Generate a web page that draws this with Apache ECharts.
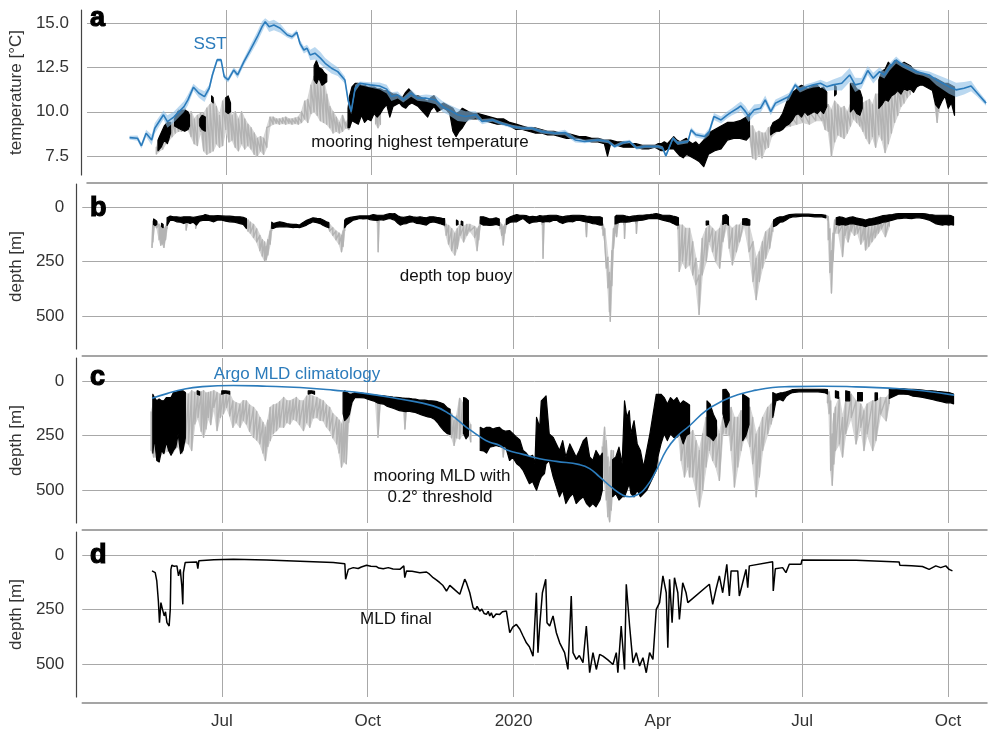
<!DOCTYPE html>
<html><head><meta charset="utf-8">
<script src="https://cdn.jsdelivr.net/npm/echarts@6/dist/echarts.min.js"></script>
<style>html,body{margin:0;padding:0;background:#fff}#c{width:988px;height:730px}</style>
</head><body><div id="c"></div>
<script>
// x values everywhere: days since 2019-07-01
const monthTicks = [0, 92, 184, 275, 366, 458];
const monthLabels = ['Jul', 'Oct', '2020', 'Apr', 'Jul', 'Oct'];
const tempTicks = [7.5, 10, 12.5, 15];
const depthTicks = [0, 250, 500];

// SST [day, °C, half-width of uncertainty band]
const sst = [[-61,8.54,0.1],[-56,8.51,0.15],[-53.5,8.08,0.15],[-50.5,8.79,0.2],[-47,8.41,0.3],[-45,9.07,0.3],[-39.5,9.83,0.25],[-37,9.45,0.35],[-33,9.7,0.3],[-26.5,10.29,0.3],[-24,10.67,0.3],[-20.5,11.39,0.2],[-17,11.05,0.25],[-13.5,10.86,0.3],[-10.5,11.33,0.2],[-8.5,12.08,0.2],[-5.5,12.93,0.1],[-3,12.93,0.1],[-1,11.99,0.15],[1.5,11.8,0.15],[5,12.36,0.15],[7.5,12.08,0.2],[11.5,12.83,0.2],[15.5,13.49,0.25],[20,14.24,0.3],[23,14.81,0.3],[25,15.09,0.2],[27.5,14.81,0.3],[30.5,14.9,0.3],[34.5,14.72,0.25],[39,14.34,0.15],[42,14.24,0.15],[45,14.49,0.15],[47,13.87,0.2],[49.5,13.49,0.2],[51.5,13.59,0.2],[53.5,13.21,0.3],[56.5,13.31,0.35],[60,13.03,0.35],[63,12.74,0.3],[67,12.46,0.3],[71,12.27,0.25],[75.5,11.8,0.2],[77.5,10.67,0.2],[79.5,10.01,0.15],[82,11.33,0.2],[85,11.61,0.1],[91.5,11.52,0.15],[97.5,11.46,0.2],[102,11.28,0.25],[105,10.86,0.25],[109,10.95,0.2],[112.5,10.67,0.15],[117.5,11.05,0.2],[121.5,10.77,0.15],[127,10.77,0.2],[133,10.67,0.25],[137.5,10.29,0.3],[141.5,10.11,0.3],[147,9.83,0.35],[152,9.73,0.3],[158.5,9.83,0.2],[162.5,9.45,0.15],[169,9.54,0.1],[175.5,9.32,0.1],[181.5,9.17,0.1],[188,9.07,0.1],[194,9.07,0.1],[200.5,8.88,0.1],[209,8.79,0.1],[215,8.83,0.15],[221.5,8.41,0.15],[227.5,8.32,0.1],[236,8.41,0.1],[242.5,8.32,0.1],[246.5,8.04,0.1],[252,8.26,0.1],[256,8.32,0.1],[260.5,7.95,0.1],[265.5,8.04,0.1],[269.5,8.04,0.1],[274,8.04,0.1],[277,7.95,0.1],[279,7.51,0.1],[283.5,8.51,0.1],[286.5,8.23,0.1],[293,8.32,0.1],[295,8.98,0.15],[298,8.7,0.15],[303.5,8.6,0.15],[306.5,8.88,0.2],[309.5,9.73,0.2],[314,9.54,0.2],[318,9.83,0.2],[321,10.01,0.2],[324.5,10.2,0.25],[326.5,10.33,0.25],[329.5,10.01,0.3],[331.5,9.73,0.3],[335,10.11,0.3],[339,10.2,0.25],[342,10.67,0.25],[345.5,10.01,0.2],[348.5,10.49,0.2],[352.5,10.67,0.2],[357,10.86,0.2],[361,11.52,0.15],[364,11.24,0.15],[368.5,11.42,0.15],[372.5,11.52,0.15],[377,11.61,0.2],[381,11.42,0.25],[385,11.52,0.3],[390.5,11.61,0.4],[395.5,12.08,0.4],[399,11.52,0.4],[403,11.61,0.3],[407,12.33,0.25],[410.5,11.9,0.3],[414.5,12.27,0.25],[417.5,12.08,0.2],[421,12.55,0.2],[425,12.93,0.2],[429,12.65,0.15],[433.5,12.46,0.15],[437.5,12.27,0.15],[442,12.18,0.15],[446,12.08,0.2],[450.5,11.8,0.3],[454.5,11.61,0.35],[458.5,11.42,0.4],[463,11.24,0.4],[468,11.33,0.35],[472.5,11.46,0.3],[476.5,11.05,0.2],[482,10.49,0.15]];

// mooring highest temperature, [day, min, max]; gray = all data, black = valid data
const tempAll = [[-44,7.6,8.0],[-42,7.8,8.6],[-40,7.9,8.9],[-38,8.2,9.0],[-36,8.4,9.4],[-34,8.6,9.4],[-32,8.8,9.8],[-30,8.9,10.1],[-28,8.9,10.0],[-26,9.0,10.2],[-24,9.0,9.9],[-22,8.6,10.0],[-20,8.2,9.6],[-18,8.1,9.8],[-16,8.9,9.9],[-14,7.8,9.9],[-12,7.6,10.2],[-10,7.7,10.4],[-8,7.8,10.7],[-6,8.2,10.3],[-4,8.0,9.8],[-2,8.1,10.6],[0,9.0,10.8],[2,8.3,10.4],[4,8.4,9.8],[6,8.0,10.0],[8,7.8,9.6],[10,8.2,10.0],[12,7.9,9.6],[14,8.1,9.3],[16,7.9,9.1],[18,7.6,8.8],[20,7.5,8.5],[22,7.8,8.6],[24,7.6,8.5],[26,8.0,9.1],[28,9.2,9.7],[30,9.3,9.7],[32,9.35,9.6],[34,9.3,9.6],[36,9.35,9.65],[38,9.3,9.7],[40,9.35,9.6],[42,9.3,9.6],[44,9.35,9.65],[46,9.3,9.7],[48,9.4,10.0],[50,9.6,10.6],[52,9.4,10.7],[54,9.9,11.5],[56,10.0,12.0],[58,9.8,11.8],[60,9.5,11.6],[62,9.4,11.8],[64,9.3,11.0],[66,9.1,10.3],[68,8.8,10.0],[70,8.9,9.7],[72,8.8,9.4],[74,8.9,9.8],[76,9.1,9.4],[78,9.0,9.6],null,
[95,9.3,10],[96.5,9.1,10.2],[98,9.3,10.2],null,
[332,8.6,9.2],[334,7.4,9.2],[336,7.3,8.8],[338,7.6,8.9],[340,7.4,8.8],[342,7.9,8.8],[344,8.0,9.1],[346,8.6,9.2],[350,8.9,9.3],[354,9.1,9.5],[358,9.2,9.8],[362,9.3,10.0],[366,9.4,10.0],[370,9.3,10.0],[374,9.5,10.0],[378,9.5,10.2],[380,9.0,10.4],[382,8.9,10.4],[384,7.5,10.1],[386,8.3,10.6],[388,8.7,10.4],[390,8.6,10.2],[392,8.5,10.3],[394,8.8,10.0],[396,9.2,10.4],[398,9.6,10.4],[400,9.4,10.2],[402,9.2,10.0],[404,8.9,10.5],[406,8.5,10.6],[408,8.2,10.7],[410,8.6,10.4],[412,8.0,11.0],[414,8.7,11.0],[416,8.4,11.0],[418,7.7,11.0],[420,8.2,11.0],[422,8.8,11.0],[424,9.4,11.2],[426,9.8,11.4],[428,10.3,11.4],[430,10.5,11.4],[432,10.8,11.5],[434,11.0,11.6],null,
[449,10.8,11.5],[451,9.4,11.5],[452,10.0,11.4],null];
const tempValid = [[-43,7.8,8.4],[-41,8.0,8.8],[-39,8.4,9.2],[-37,8.2,9.4],[-35,8.8,9.4],null,
[-32.5,9.2,9.6],[-30.5,9.1,10.0],[-28.5,9.0,10.1],[-26,8.9,10.1],[-24,9.0,10.0],[-23,9.2,9.8],null,
[-16.5,9.2,9.6],[-15,9.0,9.8],[-13,8.9,9.7],null,[-9,10.6,10.9],[-8,10.5,10.8],null,
[0,10.0,10.8],[1.5,9.9,10.9],[3,10.0,10.5],null,
[56,11.8,12.6],[57.5,11.6,12.9],[59,11.9,12.5],[61,11.5,12.4],[62.5,11.6,12.2],[64,11.7,12.1],null,
[77.5,9.1,10.2],[78.5,9.1,10.9],[80,9.5,11.4],[82,9.4,11.6],[84,9.3,11.6],[86,9.8,11.5],[88,9.4,11.5],[90,9.6,11.4],[92,9.5,11.4],[94,9.9,11.4],[96,9.7,11.3],[98,9.9,11.3],[100,10.2,11.2],[102,10.4,11.2],[104,9.7,11.1],[106,10.3,11.0],[108,10.4,11.0],[110,10.5,10.9],[112,10.3,10.8],[114,10.2,11.1],[116,10.4,11.3],[118,10.5,11.1],[120,10.4,10.9],[122,10.3,10.9],[124,10.1,10.8],[126,9.9,10.7],[128,9.7,10.6],[130,10.1,10.8],[132,10.3,10.9],[134,10.0,10.6],[136,10.1,10.4],[138,10.2,10.5],[140,10.1,10.4],[142,9.9,10.3],[144,8.9,10.2],[146,8.6,9.9],[148,8.9,10.0],[150,9.1,10.2],[152,9.4,10.1],[154,9.6,10.0],[157,9.6,9.9],[160,9.6,9.9],[164,9.5,9.8],[168,9.4,9.7],[172,9.3,9.6],[176,9.3,9.6],[180,9.2,9.4],[184,9.0,9.3],[188,9.0,9.2],[192,8.9,9.1],[196,8.8,9.1],[200,8.8,9.0],[204,8.7,8.9],[208,8.7,8.9],[212,8.6,8.8],[216,8.5,8.8],[220,8.5,8.7],[224,8.5,8.6],[228,8.4,8.6],[232,8.3,8.5],[236,8.3,8.5],[240,8.2,8.4],[242,7.5,8.4],[244,8.2,8.4],[248,8.1,8.3],[252,8.0,8.3],[256,8.0,8.2],[260,8.0,8.2],[264,7.9,8.1],[268,7.9,8.1],[272,8.0,8.1],[274,7.9,8.2],[276,7.8,8.2],[278,7.8,8.3],[280,7.9,8.2],[284,7.9,8.6],[286,7.7,8.4],[288,7.5,8.3],[290,7.4,8.4],[292,7.6,8.5],[294,7.5,8.3],[296,7.4,8.2],[298,7.3,8.3],[300,7.2,8.1],[303,6.9,8.4],[306,7.6,8.8],[310,7.8,9.0],[314,7.9,9.2],[318,8.4,9.4],[322,8.5,9.4],[326,8.5,9.5],[330,8.4,9.7],[332,8.6,9.9],null,
[345.5,8.7,9.1],[347,8.8,9.4],[349,8.9,9.5],[351,8.9,9.6],[353,9.0,9.9],[355,9.2,10.4],[357,9.3,10.9],[359,9.5,11.1],[361,9.8,11.2],[363,9.9,11.4],[365,9.7,11.5],[367,10.0,11.4],[369,9.8,11.3],[371,9.9,11.4],[373,10.0,11.5],[375,9.9,11.5],[377,10.1,11.3],[379,9.9,11.4],[381,10.3,11.1],null,
[386,10.9,11.5],[387,11.0,11.4],null,
[396,10.0,11.6],[398,10.2,11.6],[400,9.9,11.3],[402,9.8,11.2],[403.5,10.2,10.8],null,
[414,10.2,11.8],[416,10.4,12.3],[418,10.7,12.4],[420,10.6,12.8],[422,10.9,12.6],[424,11.0,12.9],[426,11.2,12.8],[428,11.0,12.7],[430,11.3,12.8],[432,11.2,12.7],[434,11.3,12.6],[436,11.1,12.4],[438,11.4,12.3],[440,11.5,12.2],[442,11.5,12.1],[444,11.4,12.1],[446,11.3,12.0],[448,11.2,11.9],[450,10.4,11.9],[452,10.2,11.8],[454,10.6,11.7],[456,10.9,11.6],[458,10.2,11.6],[460,10.5,11.5],[462,9.8,11.4]];

// depth of top buoy [day, min m, max m]
const buoyAll = [[-44,170,185],[-43.5,65,160],[-42.5,60,90],[-41,70,95],[-39.5,80,150],[-38.5,90,175],[-37.5,80,170],[-36.5,100,185],[-35.5,90,150],[-34.5,70,100],null,
[-22.5,55,106],[-21.5,50,70],null,[-16.5,60,98],[-15.5,55,75],null,
[15.5,60,98],[16.5,60,110],[18,70,120],[20,80,140],[22,100,160],[24,130,200],[25.5,150,225],[27,160,245],[28,180,242],[29,150,220],[30.5,110,170],[31.5,75,110],null,
[67.5,75,100],[68,80,110],[70,95,130],[72,110,150],[74,120,170],[75.5,130,205],[76.5,110,180],[77.5,70,110],null,
[98,50,70],[98.6,60,205],[99.2,50,70],null,
[140.5,60,90],[141.5,80,130],[143,85,170],[145,100,200],[147,120,220],[148.5,100,190],[150.5,80,130],[152.5,90,160],[154.5,80,130],[156.5,80,110],[159.5,90,140],[161,100,200],[162,90,150],[163,60,90],null,
[175.5,70,100],[176.5,80,130],[177.5,90,174],[178.5,80,120],[179.5,60,85],null,
[202,60,80],[202.6,70,235],[203.2,60,80],null,[229.5,55,75],[230,70,136],[230.5,55,75],null,
[240,70,100],[240.5,80,130],[241.5,100,160],[242.5,160,280],[243.5,230,370],[244.5,300,480],[245,340,523],[246,200,360],[247,100,190],[248,80,120],[249,60,136],[250,50,80],null,
[253.5,50,80],[254,60,144],[254.5,50,80],null,[261,50,75],[261.5,60,121],[262,50,75],null,
[287.5,70,100],[288.5,83,295],[290.5,83,250],[292.5,98,280],[295,98,265],[297,159,311],[299,235,356],[301,311,492],[303,144,311],[305.5,98,250],[307.5,83,159],[309.5,98,205],[311.5,114,250],[314,98,280],[316,53,159],[318.5,35,83],[320,83,189],[322,98,265],[324.5,83,205],[326.5,83,159],[329.5,53,83],[332.5,83,205],[335,159,341],[337,235,424],[339,205,341],[341,159,280],[343,114,235],[345.5,98,189],[347.5,68,114],null,
[382,40,60],[382.5,45,150],[383.5,100,300],[384.5,200,394],[385.5,120,250],[386.5,60,120],[389,60,120],[391.5,80,227],[393,70,130],[395,70,160],[397,60,110],[399,60,130],[401,70,120],[403,80,170],[405,80,150],[406,90,197],[408,90,180],[410,90,159],[412,80,140],[414,70,120],[416,60,100],[418.5,60,136],[421,50,90],null];
const buoyValid = [[-43,55,80],[-42,60,85],[-41,65,80],null,[-38,75,90],[-37,80,95],null,
[-34.5,50,85],[-32.5,42,60],[-30.5,45,62],[-28.5,45,68],[-26,48,70],[-24,45,76],[-22,45,70],[-20,45,76],[-18,48,70],[-16,45,83],[-14,42,65],[-12,40,62],[-10.5,35,60],[-8,40,62],[-5,41,68],[-2.5,40,60],[0,41,60],[2.5,42,65],[5,42,68],[8,44,70],[11.5,45,76],[13.5,48,80],[15.5,53,98],null,
[31.5,70,98],[32.5,76,98],[34.5,72,92],[36.5,68,91],[39,72,90],[41,76,91],[43,78,93],[45,80,95],[47,80,93],[49,83,95],[51,72,90],[53.5,61,83],[55.5,55,75],[57.5,50,68],[60,52,72],[62,53,76],[64,60,85],[66,68,91],[67.5,72,95],null,
[77.5,60,95],[78.5,53,83],[81,48,70],[83,45,60],[85,43,57],[87,41,53],[89,41,55],[91.5,41,53],[93.5,40,58],[95.5,35,60],[98,38,62],[100,38,58],[102,38,60],[104,34,56],[106,30,53],[108,32,58],[109,30,60],[111,40,75],[112.5,45,83],[114.5,48,78],[116.5,45,76],[118.5,42,70],[120.5,45,68],[123,48,75],[125,45,76],[127,48,80],[129,50,83],[131,45,72],[133.5,45,68],[135.5,48,72],[137.5,50,76],[139,52,80],[140.5,53,83],null,
[148,60,83],[149,65,80],null,[151,65,80],[152,68,85],null,
[163,45,76],[165,45,83],[167,50,83],[169,55,85],[171,53,83],[173,50,80],[175,55,85],null,
[179.5,55,80],[182,45,70],[184,40,68],[186,35,68],[188,38,60],[190,38,53],[192,40,65],[194,45,76],[196,43,70],[198.5,45,68],[200.5,40,65],[202.5,42,70],[205,40,66],[207,38,68],[209,38,62],[211,38,60],[213,42,70],[215,45,76],[217,42,70],[219.5,40,66],[221.5,38,68],[223.5,38,62],[225.5,38,60],[228,40,66],[230,42,68],[232,43,72],[234,45,76],[236,45,78],[238.5,45,83],[240,50,83],null,
[248,45,78],[249,38,76],[251,38,70],[253,38,68],[255,42,70],[257,45,68],[259,42,65],[261.5,40,64],[263.5,38,62],[265.5,38,60],[268,36,56],[270,35,53],[272,33,52],[274,30,53],[276,34,56],[278,38,60],[280,38,64],[282.5,38,68],[284.5,42,75],[286.5,45,83],[288,50,83],null,
[305.5,65,83],[307,65,80],null,[316,40,80],[318,35,70],[319.5,45,83],null,[328.5,55,80],[331,53,83],[333,60,83],null,
[348,60,90],[350,50,83],[352,45,70],[354,45,68],[356,40,60],[358,35,50],[360,34,46],[362,33,45],[366,33,42],[370,33,42],[374,35,45],[378,35,45],[381,38,50],null,
[387.5,50,80],[389.5,45,83],[391.5,48,80],[393.5,53,83],[396,48,78],[398,45,76],[400,50,80],[402,53,83],[404,56,86],[406,60,90],[408,55,85],[410,53,83],[412,50,80],[414.5,45,76],[417,40,70],[419,38,68],[421,36,64],[423,35,60],[425,32,56],[427,30,53],[429,30,52],[431,30,50],[433,30,52],[435.5,30,53],[438,30,50],[440,30,50],[442,30,53],[444,32,56],[446,35,60],[448,36,68],[450,38,76],[452,38,80],[454.5,38,83],[456.5,38,80],[458.5,38,83],[460,40,80],[461.5,45,83]];

// mooring MLD (0.2° threshold) [day, min m, max m]
const mldAll = [[-44.5,140,318],[-43,100,348],[-40,100,350],[-37,90,330],[-34,80,320],[-31,70,330],[-28,60,300],[-25,55,330],[-23,55,280],[-21,61,288],[-19,45,318],[-17,53,197],[-15,45,167],[-13,50,230],[-11.5,45,258],[-10,55,220],[-8.5,53,167],[-7,50,200],[-5,45,121],[-3,53,227],[-1,61,167],[1,45,150],[3,53,121],[5,60,160],[7,91,212],[9,100,190],[11.5,106,212],[13.5,90,180],[15.5,91,197],[17.5,110,230],[20,121,258],[22,140,270],[24,167,288],[26,190,330],[27.5,212,364],[29,180,300],[30.5,121,273],[32.5,110,240],[34.5,106,227],[36.5,95,210],[39,76,212],[41,90,190],[43,91,197],[45,85,175],[47,76,182],[49,90,200],[51.5,91,227],[53.5,70,190],[55.5,61,212],[57.5,70,170],[60,76,167],[62,85,180],[64,91,182],[66,110,210],[68,121,227],[70,150,260],[72.5,167,288],[74,180,330],[75.5,197,394],[77,167,370],[78.5,150,379],[80,76,190],[82,60,110],null,
[97,62,98],[98.5,70,258],[100,68,104],null,[114.5,78,138],[115.5,80,220],[116.5,80,140],null,
[140,106,227],[145,150,260],[146.5,180,295],[148,160,260],[150,80,265],[152,100,240],[153.5,150,242],[155,170,240],[157,200,280],null,
[176.5,230,300],[177.5,230,348],[178.5,240,300],null,
[240,300,450],[241.4,212,470],[242.5,273,545],[243.5,348,621],[244.6,394,644],[245.6,318,591],[247,320,440],null,
[288,110,240],[289.7,242,364],[291.8,258,439],[293.9,242,394],[295,242,439],[297,227,439],[299.1,273,500],[301.2,318,576],[303.3,242,500],[305.4,167,394],[307.5,167,318],[309.6,197,364],[311.7,197,394],[313.8,242,455],[316,167,242],[318,167,242],[320,150,250],[321.2,121,318],[323.3,167,485],[325.4,167,394],[327.5,136,318],[329,150,273],[331,150,260],[333,120,300],[334.8,167,379],[337,242,530],[339,212,439],[341.1,167,318],[344.3,121,242],[346.4,106,197],[348,91,160],null,
[382,50,100],[383,50,150],[384,91,409],[385,242,477],[386,150,380],[387,120,318],[389.5,76,288],[391.5,167,348],[393.5,91,242],[397,61,167],[400,91,288],[403,106,212],[405,136,318],[407,106,242],[410.5,91,318],[412.5,91,273],[415.5,76,152],[419,76,182],[421,61,106],null];
const mldValid = [[-43.5,61,330],[-42.5,76,260],[-41,91,364],[-39.5,83,371],[-38,91,318],[-36.5,91,333],[-35,76,280],[-33.5,76,318],[-32,76,340],[-30.5,53,318],[-29,53,303],[-27.5,45,242],[-26,45,333],[-24.5,45,318],[-23,53,260],null,
[-15.5,45,61],[-14,50,65],null,[0,45,61],[2.5,45,55],[5,48,60],null,[54.5,45,60],[56.5,45,55],[58.5,48,61],null,
[76.5,53,150],[77.5,45,182],[79,53,170],[80.5,60,152],[82,60,100],[84,53,76],[87,55,76],[90,58,78],[92,61,83],[94,62,88],[96,64,92],[98,66,100],[100,68,104],[102,68,106],[104,70,115],[106,72,120],[108,74,125],[110,75,130],[112,76,136],[114,78,138],[116,80,140],[118,80,138],[120,82,142],[122,83,144],[124,86,150],[126,88,155],[128,88,160],[130,90,165],[132,91,167],[134,92,175],[136,95,190],[138,100,210],[140,106,227],[142,121,240],[144,130,245],null,
[152.5,76,240],[154,80,265],[155.5,90,250],null,
[163,212,318],[165,220,320],[167,212,330],[169,212,303],[171,220,300],[173,215,295],[175,212,300],[177,225,303],[179,230,300],[181.5,227,364],[183.5,240,350],[186,258,379],[188,270,390],[190,318,409],[192,330,440],[194,348,470],[196,340,460],[197.5,379,485],[198.5,167,500],[200.5,212,455],[201.5,91,439],[203.5,76,424],[204.5,68,379],[206.5,242,364],[209,258,439],[211,288,485],[213,318,530],[215,273,500],[217,348,561],[219.5,288,530],[221.5,318,515],[223.5,348,561],[225.5,318,545],[228,273,530],[230,258,561],[232,348,576],[234,364,561],[236,318,576],[238.5,348,545],[240,330,500],null,
[246.5,360,530],[248.5,348,515],[250.5,303,545],[252.5,379,530],[254,91,530],[255.5,167,500],[257,136,470],[258,242,515],[260,182,530],[262,288,500],[264,318,530],[266,394,515],[268,318,500],[270,242,470],[272,152,439],[274,61,409],[275,61,348],[277,61,288],[279,76,242],[281,106,273],[283,76,242],[285,91,258],[287,76,258],[289,106,242],[291,91,288],[293,100,250],[295,110,240],null,
[306,91,250],[308,106,258],[310,152,273],[312,182,250],null,[316,40,150],[318,38,212],[320,60,180],null,[328.5,61,273],[330.5,70,250],[332.5,80,200],null,
[347.5,53,167],[349.5,61,91],[352,55,85],[354,53,91],[356,50,70],[358,45,60],[360,40,53],[364,38,50],[368,38,50],[372,38,50],[376,38,50],[380,38,53],[382,40,60],null,
[387,45,76],[389,50,80],null,[393.5,45,91],[396,50,91],null,[401,53,91],[404,53,91],null,[412,55,91],[413.5,55,85],null,
[421,38,80],[424,38,70],[427,36,60],[430,36,60],[433,38,62],[436,38,70],[439,40,72],[442,42,75],[445,45,80],[448,45,85],[451,48,90],[454,50,95],[457,52,100],[459.5,55,100],[461.5,60,105]];

// Argo MLD climatology [day, m]
const argoMld = [[-44,79],[-34.6,58],[-24,38],[-13.7,27],[7.3,21],[28.3,24],[49.3,30],[70.3,42],[91.3,58],[112.3,83],[133.3,114],[143.8,152],[154.3,212],[164.8,265],[169,280],[175.3,295],[179.5,315],[190,336],[200.5,356],[211,368],[225.7,383],[232,401],[238.3,439],[246.7,492],[253,523],[257.2,530],[261.4,523],[267.7,485],[274,409],[280.3,318],[286.5,258],[295,205],[305.4,136],[316,91],[326.4,61],[337,42],[347.4,30],[358,26],[379,24],[400,27],[421,33],[442,45],[461.8,65]];

// final MLD [day, m]
const mldFinal = [[-44,73],[-42,81],[-41,119],[-40,211],[-39.3,310],[-38.4,218],[-37.4,249],[-36.3,279],[-35.5,260],[-34.6,310],[-33.2,325],[-32.5,249],[-32.1,66],[-31.5,47],[-30,52],[-28.3,50],[-27.3,96],[-26.2,66],[-25.2,142],[-24.6,226],[-24.2,81],[-23.1,35],[-20,33],[-15.8,32],[-15.1,63],[-14.5,27],[-13.7,26],[-5,22],[7.3,20],[28.3,23],[49.3,29],[70.3,35],[77.6,40],[78.1,111],[79.8,66],[82.9,58],[86,62],[88,55],[91.3,47],[94,52],[97.6,53],[99,60],[101.8,63],[105,58],[108,64],[112.3,66],[114.8,50],[115.4,104],[116.5,73],[120,75],[124.9,81],[129.1,78],[131,88],[133.3,104],[135.5,115],[137.5,127],[139.5,140],[141.7,165],[143.8,139],[147,160],[150.1,180],[153.2,111],[154.3,127],[156.4,173],[158.5,241],[160,250],[161,235],[162.7,257],[164,248],[165.5,268],[166.9,272],[168,258],[169,279],[170,265],[171.1,287],[173,270],[175.3,272],[177,260],[179.5,257],[181.6,356],[183.5,330],[185.8,318],[188,340],[190,371],[192.1,402],[194,420],[196.3,463],[198.4,173],[199.4,447],[200.5,325],[202.2,173],[204.3,111],[205.1,310],[206.8,325],[208.9,279],[211,356],[213.1,402],[216.2,447],[218.3,524],[220.4,188],[221.5,447],[223.6,478],[225.5,460],[227.8,493],[229.9,325],[232,539],[234.1,447],[236.2,524],[238.3,455],[240.4,463],[243.5,480],[246.7,501],[248.8,447],[249.8,539],[251.9,325],[254,524],[255.1,134],[257.2,325],[259.3,493],[261.4,447],[263.5,508],[265.6,470],[267.7,539],[269.8,447],[271.9,478],[272.9,371],[274,249],[276.1,218],[278.2,96],[280.3,173],[281.3,424],[282.4,111],[284,310],[285.5,104],[287.6,173],[288.6,295],[290.7,127],[292.8,173],[293.9,218],[307.5,134],[309.6,226],[311.7,157],[313.8,96],[315.9,173],[318.5,43],[320.1,188],[321.2,73],[325.4,73],[326.4,188],[328.5,127],[330.6,66],[331.7,150],[332.7,50],[347.4,31],[347.8,165],[349.1,63],[353.7,58],[355.8,81],[357.9,43],[365.3,43],[365.9,23],[400,24],[427.2,32],[427.6,47],[435,49],[441.9,53],[446.1,66],[450.3,50],[453.4,58],[456.6,50],[458.7,66],[460.8,73]];

const FONT = '"Liberation Sans", Arial, Helvetica, sans-serif';
const BLUE = '#2b7bbb';
const TXT = '#333333';
const GRID = '#a8a8a8';
const GRAY = '#b3b3b3';
const GRAY_FILL = '#d6d6d6';

function segments(arr) {
  const out = [[]];
  arr.forEach(d => {
    if (!d) { if (out[out.length - 1].length) out.push([]); }
    else out[out.length - 1].push(d);
  });
  return out.filter(s => s.length);
}
// filled envelope between min and max of each [day, min, max] run
function envelope(arr, color, i, z) {
  const parts = segments(arr);
  return {
    type: 'custom', xAxisIndex: i, yAxisIndex: i, silent: true, z: z, data: [0],
    renderItem: (params, api) => ({
      type: 'group',
      children: parts.map(p => {
        const up = p.map(d => api.coord([d[0], d[2]]));
        const dn = p.slice().reverse().map(d => api.coord([d[0], d[1]]));
        return { type: 'polygon', shape: { points: up.concat(dn) },
          style: { fill: color, stroke: color, lineWidth: 1.2, lineJoin: 'round' } };
      })
    })
  };
}
// noisy trace going min -> max at each [day, min, max]
function trace(arr, color, i, z) {
  const out = [];
  let lastX = 0;
  arr.forEach(d => {
    if (!d) { out.push([lastX, null]); return; }
    out.push([d[0], d[1]], [d[0], d[2]]);
    lastX = d[0];
  });
  return { type: 'line', xAxisIndex: i, yAxisIndex: i, data: out, symbol: 'none', showSymbol: false,
    silent: true, z: z, progressive: 0, lineStyle: { color: color, width: 1.4, join: 'round' } };
}

const gridTops = [10, 184, 358, 532];
const xOffsets = [8, 7, 7, 6];
const grids = gridTops.map(t => ({ left: 82, right: 1, top: t, height: 165 }));

const xAxes = gridTops.map((t, i) => ({
  type: 'value', gridIndex: i, min: -88, max: 482.6, offset: xOffsets[i],
  axisLine: { show: true, onZero: false, lineStyle: { color: '#888', width: 1.5 } },
  axisTick: { show: false, customValues: monthTicks },
  axisLabel: { show: i === 3, customValues: monthTicks, formatter: v => monthLabels[monthTicks.indexOf(v)],
    color: TXT, fontSize: 17, fontFamily: FONT, margin: 10 },
  splitLine: { show: true, lineStyle: { color: GRID, width: 1 } }
}));

const yCommon = (i) => ({
  type: 'value', gridIndex: i, offset: 6,
  axisLine: { show: true, onZero: false, lineStyle: { color: '#444', width: 1.2 } },
  axisTick: { show: false },
  axisLabel: { color: TXT, fontSize: 17, fontFamily: FONT, margin: 12 },
  splitLine: { show: true, lineStyle: { color: GRID, width: 1 } },
  nameLocation: 'middle', nameGap: 50,
  nameTextStyle: { color: TXT, fontSize: 17, fontFamily: FONT }
});
const yAxes = [0, 1, 2, 3].map(i => {
  const a = yCommon(i);
  if (i === 0) {
    a.min = 6.43; a.max = 15.75; a.name = 'temperature [°C]';
    a.axisTick.customValues = tempTicks;
    a.axisLabel.customValues = tempTicks;
    a.axisLabel.formatter = v => v.toFixed(1);
  } else {
    a.min = -105; a.max = 650; a.inverse = true; a.name = 'depth [m]';
    a.axisTick.customValues = depthTicks;
    a.axisLabel.customValues = depthTicks;
    a.axisLabel.formatter = v => String(v);
  }
  return a;
});

const series = [
  envelope(tempAll, GRAY_FILL, 0, 1),
  trace(tempAll, GRAY, 0, 2),
  envelope(tempValid, '#000', 0, 3),
  {
    type: 'custom', xAxisIndex: 0, yAxisIndex: 0, silent: true, z: 4, data: [0],
    renderItem: (params, api) => {
      const up = sst.map(d => api.coord([d[0], d[1] + d[2]]));
      const dn = sst.slice().reverse().map(d => api.coord([d[0], d[1] - d[2]]));
      return { type: 'polygon', shape: { points: up.concat(dn) }, style: { fill: 'rgba(140,190,230,0.6)' } };
    }
  },
  { type: 'line', xAxisIndex: 0, yAxisIndex: 0, data: sst.map(d => [d[0], d[1]]), symbol: 'none', silent: true, z: 5,
    lineStyle: { color: BLUE, width: 1.6 } },
  envelope(buoyAll, GRAY_FILL, 1, 1),
  trace(buoyAll, GRAY, 1, 2),
  envelope(buoyValid, '#000', 1, 3),
  envelope(mldAll, GRAY_FILL, 2, 1),
  trace(mldAll, GRAY, 2, 2),
  envelope(mldValid, '#000', 2, 3),
  { type: 'line', xAxisIndex: 2, yAxisIndex: 2, data: argoMld, smooth: true, symbol: 'none', silent: true, z: 5,
    lineStyle: { color: BLUE, width: 1.6 } },
  { type: 'line', xAxisIndex: 3, yAxisIndex: 3, data: mldFinal, symbol: 'none', silent: true, z: 3,
    lineStyle: { color: '#000', width: 1.5 } }
];

function txt(x, y, s, color) {
  return { type: 'text', x: x, y: y, z: 100, silent: true,
    style: { text: s, fill: color || '#111', font: '17px ' + FONT, align: 'center', verticalAlign: 'middle' } };
}
function letter(y, s) {
  return { type: 'text', x: 90, y: y, z: 100, silent: true,
    style: { text: s, fill: '#000', stroke: '#000', lineWidth: 1.2, font: 'bold 27px ' + FONT, align: 'left', verticalAlign: 'middle' } };
}

const graphic = [
  letter(19, 'a'), letter(209, 'b'), letter(378, 'c'), letter(556, 'd'),
  txt(210, 44, 'SST', BLUE),
  txt(420, 142, 'mooring highest temperature'),
  txt(456, 276, 'depth top buoy'),
  txt(297, 374, 'Argo MLD climatology', BLUE),
  txt(442, 476, 'mooring MLD with'),
  txt(440, 497, '0.2° threshold'),
  txt(396, 619, 'MLD final')
];

const chart = echarts.init(document.getElementById('c'));
chart.setOption({
  animation: false,
  backgroundColor: '#fff',
  grid: grids, xAxis: xAxes, yAxis: yAxes, series: series, graphic: graphic
});
</script></body></html>
